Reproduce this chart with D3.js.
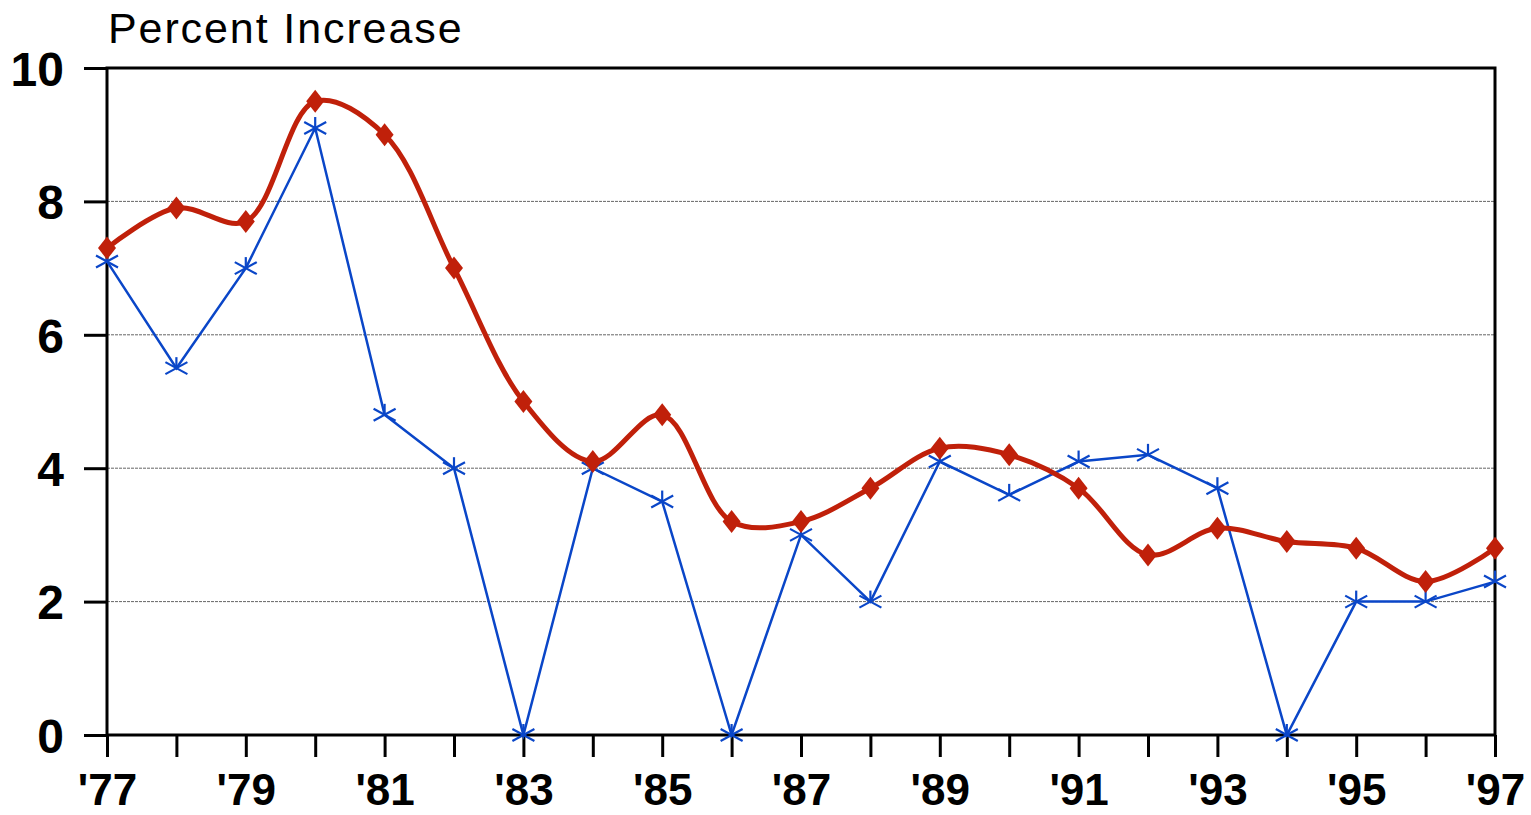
<!DOCTYPE html>
<html>
<head>
<meta charset="utf-8">
<script src="https://cdn.jsdelivr.net/npm/d3@7"></script>
<style>
  html, body { margin: 0; padding: 0; background: #fff; }
  svg { display: block; }
</style>
</head>
<body>
<svg id="chart" width="1531" height="815"></svg>
<script>
const years = [1977,1978,1979,1980,1981,1982,1983,1984,1985,1986,1987,1988,1989,1990,1991,1992,1993,1994,1995,1996,1997];
const redSeries = [7.3,7.9,7.7,9.5,9.0,7.0,5.0,4.1,4.8,3.2,3.2,3.7,4.3,4.2,3.7,2.7,3.1,2.9,2.8,2.3,2.8];
const blueSeries = [7.1,5.5,7.0,9.1,4.8,4.0,0,4.0,3.5,0,3.0,2.0,4.1,3.6,4.1,4.2,3.7,0,2.0,2.0,2.3];
const yTicks = [0,2,4,6,8,10];
const gridTicks = [2,4,6,8];
const xLabelYears = [1977,1979,1981,1983,1985,1987,1989,1991,1993,1995,1997];
const yTitle = "Percent Increase";

(function () {
const svg = d3.select("#chart");
const pLeft = 107, pRight = 1495, pTop = 68, pBottom = 735;

const x = d3.scaleLinear().domain([1977,1997]).range([pLeft,pRight]);
const y = d3.scaleLinear().domain([0,10]).range([pBottom,pTop]);

const red = "#c0200a", blue = "#0a46c8";
const font = "'Liberation Sans', Arial, Helvetica, sans-serif";

// gridlines
svg.append("g").selectAll("line").data(gridTicks).join("line")
  .attr("x1", pLeft).attr("x2", pRight)
  .attr("y1", d => y(d)).attr("y2", d => y(d))
  .attr("stroke", "#666").attr("stroke-width", 1).attr("stroke-dasharray", "3,1");

// Y axis
const yAxis = d3.axisLeft(y).tickValues(yTicks).tickSize(23).tickPadding(20).tickFormat(d3.format("d"));
const gy = svg.append("g").attr("transform", `translate(${pLeft},0)`).call(yAxis);
gy.select(".domain").remove();
gy.selectAll(".tick line").attr("stroke", "#000").attr("stroke-width", 3);
gy.selectAll(".tick text").attr("font-family", font)
  .attr("font-weight", "bold").attr("font-size", 48).attr("fill", "#000").attr("dy", "0.36em");

// X axis
const xAxis = d3.axisBottom(x).tickValues(years).tickSize(22).tickPadding(16)
  .tickFormat(d => xLabelYears.includes(d) ? "'" + String(d).slice(2) : "");
const gx = svg.append("g").attr("transform", `translate(0,${pBottom})`).call(xAxis);
gx.select(".domain").remove();
gx.selectAll(".tick line").attr("stroke", "#000").attr("stroke-width", 3);
gx.selectAll(".tick text").attr("font-family", font)
  .attr("font-weight", "bold").attr("font-size", 44).attr("fill", "#000")
  .attr("y", 0).attr("dy", 0)
  .attr("transform", "translate(0,70)");

// frame
svg.append("rect").attr("x", pLeft).attr("y", pTop).attr("width", pRight-pLeft).attr("height", pBottom-pTop)
  .attr("fill", "none").attr("stroke", "#000").attr("stroke-width", 3);

// title
svg.append("text").attr("x", 108).attr("y", 43).text(yTitle)
  .attr("font-family", font).attr("font-size", 43).attr("letter-spacing", 1.9).attr("fill", "#000");

// blue line
const blueLine = d3.line().x((d,i) => x(years[i])).y(d => y(d));
svg.append("path").datum(blueSeries).attr("d", blueLine)
  .attr("fill", "none").attr("stroke", blue).attr("stroke-width", 2.5);

// blue asterisks
const ast = svg.append("g").selectAll("g").data(blueSeries).join("g")
  .attr("transform", (d,i) => `translate(${x(years[i])},${y(d)})`)
  .attr("stroke", blue).attr("stroke-width", 2.2);
ast.append("line").attr("x1", 0).attr("y1", -11).attr("x2", 0).attr("y2", 0);
ast.append("line").attr("x1", -11).attr("y1", -6).attr("x2", 11).attr("y2", 6);
ast.append("line").attr("x1", -11).attr("y1", 6).attr("x2", 11).attr("y2", -6);

// red smooth line
const redLine = d3.line().x((d,i) => x(years[i])).y(d => y(d)).curve(d3.curveCatmullRom.alpha(0.5));
svg.append("path").datum(redSeries).attr("d", redLine)
  .attr("fill", "none").attr("stroke", red).attr("stroke-width", 5);

// red diamonds
const hw = 9, hh = 11.5;
svg.append("g").selectAll("path").data(redSeries).join("path")
  .attr("d", `M0,${-hh}L${hw},0L0,${hh}L${-hw},0Z`)
  .attr("transform", (d,i) => `translate(${x(years[i])},${y(d)})`)
  .attr("fill", red);
})();
</script>
</body>
</html>
